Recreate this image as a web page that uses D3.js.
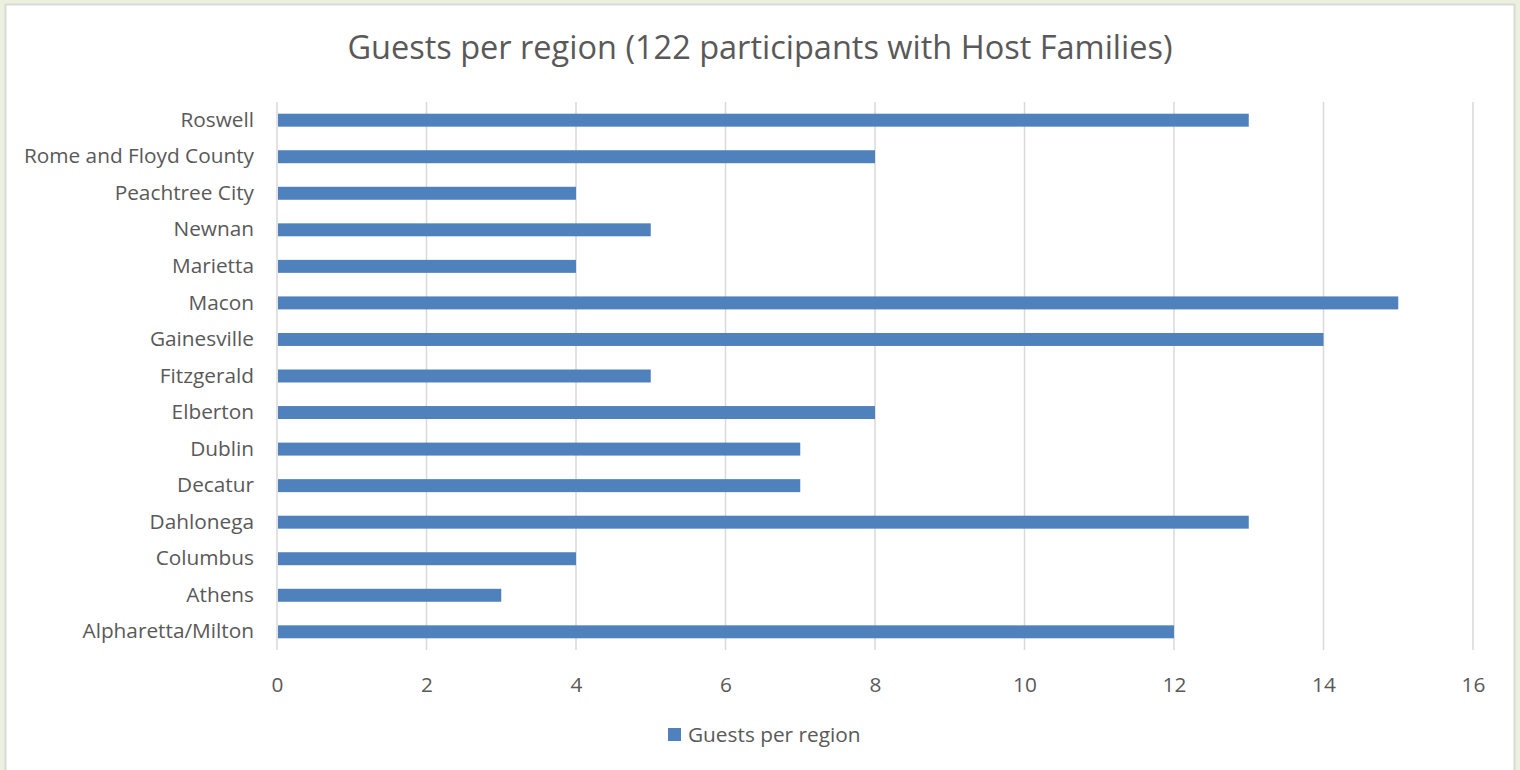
<!DOCTYPE html>
<meta charset="utf-8">
<script src="https://cdn.jsdelivr.net/npm/d3@7"></script>
<style>
body {
  margin: 0;
  background: #ebf1de;
  font-family: "Open Sans", "Noto Sans", sans-serif;
}
svg {
  display: block;
}
.grid line {
  stroke: #d9d9d9;
  stroke-width: 1.5;
}
.axis text {
  fill: #595959;
}
</style>
<body>
<div class="chart"></div>
<script>

// chart data
var regions = ["Roswell", "Rome and Floyd County", "Peachtree City", "Newnan", "Marietta",
  "Macon", "Gainesville", "Fitzgerald", "Elberton", "Dublin", "Decatur", "Dahlonega",
  "Columbus", "Athens", "Alpharetta/Milton"];
var guests = [13, 8, 4, 5, 4, 15, 14, 5, 8, 7, 7, 13, 4, 3, 12];
var xTicks = [0, 2, 4, 6, 8, 10, 12, 14, 16];
var seriesName = "Guests per region";
var title = "Guests per region (122 participants with Host Families)";

var W = 1520, H = 770;
var margin = {top: 102, right: 47, bottom: 120, left: 277},
    width = W - margin.left - margin.right,
    height = H - margin.top - margin.bottom;

var svg = d3.select(".chart").append("svg")
    .attr("width", W)
    .attr("height", H);

// white chart panel
svg.append("rect")
    .attr("x", 5.5).attr("y", 4.5)
    .attr("width", 1509).attr("height", 780)
    .attr("fill", "#fff")
    .attr("stroke", "#d9d9d9")
    .attr("stroke-width", 2);

svg.append("text")
    .attr("x", 760)
    .attr("y", 59)
    .attr("text-anchor", "middle")
    .attr("fill", "#595959")
    .style("font-size", "32.5px")
    .text(title);

var g = svg.append("g")
    .attr("transform", "translate(" + margin.left + "," + margin.top + ")");

var x = d3.scaleLinear()
    .domain([0, 16])
    .range([0, width]);

var y = d3.scaleBand()
    .domain(regions)
    .range([0, height])
    .paddingInner(0.645)
    .paddingOuter(0.32);

// gridlines
g.append("g")
    .attr("class", "grid")
  .selectAll("line")
  .data(xTicks)
  .enter().append("line")
    .attr("x1", function(d) { return x(d); })
    .attr("x2", function(d) { return x(d); })
    .attr("y1", 0)
    .attr("y2", height);

// bars
g.selectAll(".bar")
  .data(guests)
  .enter().append("rect")
    .attr("class", "bar")
    .attr("x", x(0) + 1)
    .attr("y", function(d, i) { return y(regions[i]); })
    .attr("width", function(d) { return x(d) - x(0) - 1; })
    .attr("height", y.bandwidth())
    .attr("fill", "#4f81bd");

// x axis labels
var xAxis = g.append("g")
    .attr("class", "axis")
    .attr("transform", "translate(0," + height + ")")
    .call(d3.axisBottom(x).tickValues(xTicks).tickSize(0).tickPadding(27));
xAxis.attr("font-family", null).attr("font-size", null);
xAxis.select(".domain").remove();
xAxis.selectAll("text").style("font-size", "20.8px");

// y axis labels
var yAxis = g.append("g")
    .attr("class", "axis")
    .call(d3.axisLeft(y).tickSize(0).tickPadding(23));
yAxis.attr("font-family", null).attr("font-size", null);
yAxis.select(".domain").remove();
yAxis.selectAll("text").style("font-size", "20.8px");

// legend
var legend = svg.append("g")
    .attr("transform", "translate(668,728)");
legend.append("rect")
    .attr("width", 13).attr("height", 13)
    .attr("fill", "#4f81bd");
legend.append("text")
    .attr("x", 20)
    .attr("y", 14)
    .attr("fill", "#595959")
    .style("font-size", "20.8px")
    .text(seriesName);

</script>
</body>
